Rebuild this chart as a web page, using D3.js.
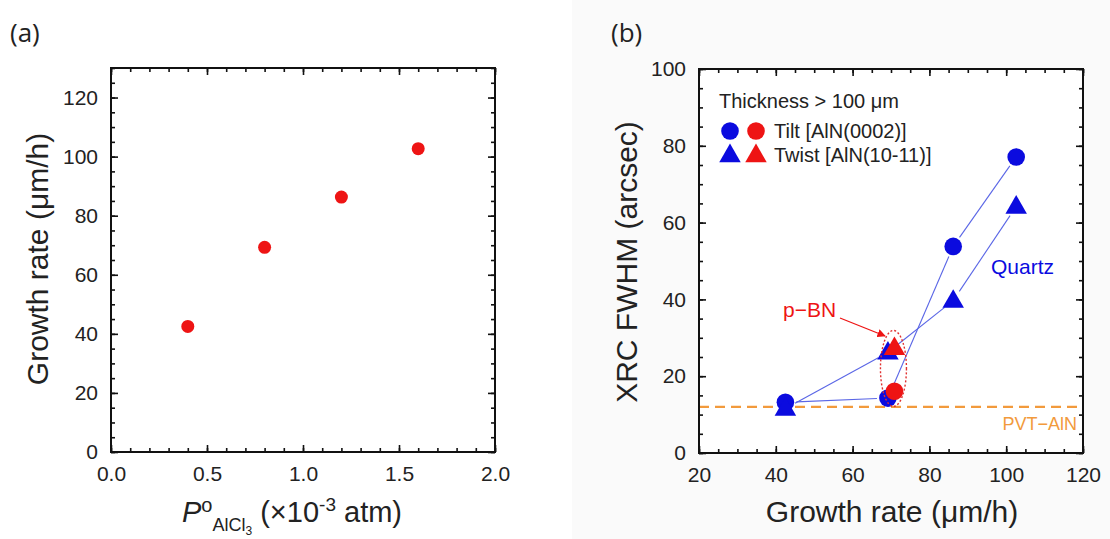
<!DOCTYPE html>
<html>
<head>
<meta charset="utf-8">
<script src="https://cdn.jsdelivr.net/npm/d3@7"></script>
<style>
  body { margin: 0; background: #fff; }
  svg { display: block; }
  text { font-family: "Liberation Sans", Arial, sans-serif; fill: #222; }
</style>
</head>
<body>
<div id="chart-area"></div>
<script>
const width = 1110;
const height = 539;

// panel (a): AlCl3 partial pressure vs growth rate
const pressure = [0.4, 0.8, 1.2, 1.6];
const growthRate = [42.5, 69.3, 86.3, 102.7];

// panel (b): XRC FWHM vs growth rate
const quartzRate = [42.5, 69.2, 86.2, 102.6];
const quartzTilt = [13.2, 14.3, 53.8, 77.1];
const quartzTwist = [11.6, 26.2, 39.7, 64.2];
const pbnRate = [70.9];
const pbnTilt = [16.1];
const pbnTwist = [27.4];
const pvtLevel = 12;

const xTicksA = [0, 0.5, 1.0, 1.5, 2.0];
const yTicksA = [0, 20, 40, 60, 80, 100, 120];
const xTicksB = [20, 40, 60, 80, 100, 120];
const yTicksB = [0, 20, 40, 60, 80, 100];

const blue = '#0b0bdf';
const red = '#ee1414';
const lineBlue = '#5a66e6';
const orange = '#f29a3c';

const svg = d3
  .select('#chart-area')
  .append('svg')
  .attr('width', width)
  .attr('height', height);

// faint grey backdrop of the right-hand figure
svg
  .append('rect')
  .attr('x', 572)
  .attr('y', 0)
  .attr('width', width - 572)
  .attr('height', height)
  .attr('fill', '#fafafa');

// draws the boxed frame with inward ticks on all four sides
function frame(g, x, y, xMajor, xMinor, yMajor, yMinor, xFmt) {
  const [x0, x1] = x.range();
  const [y0, y1] = y.range();
  const major = 7;
  const minor = 4;

  const axes = [
    { axis: d3.axisBottom, scale: x, at: `translate(0,${y0})`, lab: true },
    { axis: d3.axisTop, scale: x, at: `translate(0,${y1})`, lab: false },
    { axis: d3.axisLeft, scale: y, at: `translate(${x0},0)`, lab: true },
    { axis: d3.axisRight, scale: y, at: `translate(${x1},0)`, lab: false },
  ];

  axes.forEach((a) => {
    const horiz = a.scale === x;
    const minorAx = a
      .axis(a.scale)
      .tickValues(horiz ? xMinor : yMinor)
      .tickSize(-minor)
      .tickFormat('');
    g.append('g').attr('transform', a.at).call(minorAx);

    const majorAx = a
      .axis(a.scale)
      .tickValues(horiz ? xMajor : yMajor)
      .tickSize(-major)
      .tickPadding(horiz ? 14 : 13)
      .tickFormat(a.lab ? (horiz ? xFmt : d3.format('d')) : '');
    g.append('g').attr('transform', a.at).call(majorAx);
  });

  g.selectAll('.domain').remove();
  g.selectAll('.tick line').attr('stroke', '#111').attr('stroke-width', 1.6);
  g.selectAll('.tick text')
    .attr('font-size', 21)
    .attr('fill', '#222')
    .style('font-family', '"Liberation Sans", Arial, sans-serif');

  g.append('rect')
    .attr('x', x0)
    .attr('y', y1)
    .attr('width', x1 - x0)
    .attr('height', y0 - y1)
    .attr('fill', 'none')
    .attr('stroke', '#111')
    .attr('stroke-width', 2);
}

// ---------- panel (a) ----------
const xA = d3.scaleLinear().domain([0, 2]).range([111, 495]);
const yA = d3.scaleLinear().domain([0, 130]).range([452, 68]);
const gA = svg.append('g');

frame(
  gA,
  xA,
  yA,
  xTicksA,
  d3.range(0, 2.001, 0.1).map((d) => +d.toFixed(1)),
  yTicksA,
  d3.range(0, 130.1, 5),
  d3.format('.1f')
);

gA.selectAll('circle.pt')
  .data(pressure.map((p, i) => [p, growthRate[i]]))
  .join('circle')
  .attr('class', 'pt')
  .attr('cx', (d) => xA(d[0]))
  .attr('cy', (d) => yA(d[1]))
  .attr('r', 6.5)
  .attr('fill', red);

svg
  .append('text')
  .attr('x', 10)
  .attr('y', 42)
  .attr('font-size', 26)
  .style('font-family', '"Open Sans", sans-serif')
  .text('(a)');

svg
  .append('text')
  .attr('transform', 'translate(48,259) rotate(-90)')
  .attr('text-anchor', 'middle')
  .attr('font-size', 30)
  .text('Growth rate (μm/h)');

const xlabA = svg
  .append('text')
  .attr('x', 292)
  .attr('y', 522)
  .attr('text-anchor', 'middle')
  .attr('font-size', 29);
xlabA.append('tspan').attr('font-style', 'italic').text('P');
xlabA.append('tspan').attr('font-size', 20).attr('dy', -10).text('o');
xlabA.append('tspan').attr('font-size', 18).attr('dy', 19).text('AlCl');
xlabA.append('tspan').attr('font-size', 12).attr('dy', 4).text('3');
xlabA.append('tspan').attr('dy', -13).text(' (×10');
xlabA.append('tspan').attr('font-size', 19).attr('dy', -11).text('-3');
xlabA.append('tspan').attr('dy', 11).text(' atm)');

// ---------- panel (b) ----------
const xB = d3.scaleLinear().domain([20, 120]).range([699, 1083]);
const yB = d3.scaleLinear().domain([0, 100]).range([453, 69]);
const gB = svg.append('g');

gB.append('rect')
  .attr('x', 699)
  .attr('y', 69)
  .attr('width', 384)
  .attr('height', 384)
  .attr('fill', '#fff');

// PVT-AlN reference level
gB.append('line')
  .attr('x1', xB(20))
  .attr('x2', xB(120))
  .attr('y1', yB(pvtLevel))
  .attr('y2', yB(pvtLevel))
  .attr('stroke', orange)
  .attr('stroke-width', 2.2)
  .attr('stroke-dasharray', '10,6');

frame(
  gB,
  xB,
  yB,
  xTicksB,
  d3.range(20, 120.1, 5),
  yTicksB,
  d3.range(0, 100.1, 5),
  d3.format('d')
);

// connecting segments, with a small gap left around each marker
function gappedLine(xs, ys, gap) {
  const pts = xs.map((v, i) => [xB(v), yB(ys[i])]);
  const segs = d3.pairs(pts).map(([a, b]) => {
    const dx = b[0] - a[0];
    const dy = b[1] - a[1];
    const len = Math.hypot(dx, dy);
    const ux = dx / len;
    const uy = dy / len;
    return [a[0] + ux * gap, a[1] + uy * gap, b[0] - ux * gap, b[1] - uy * gap];
  });
  gB.append('g')
    .selectAll('line')
    .data(segs)
    .join('line')
    .attr('x1', (d) => d[0])
    .attr('y1', (d) => d[1])
    .attr('x2', (d) => d[2])
    .attr('y2', (d) => d[3])
    .attr('stroke', lineBlue)
    .attr('stroke-width', 1.1);
}
gappedLine(quartzRate, quartzTilt, 11);
gappedLine(quartzRate, quartzTwist, 11);

const tri = d3.symbol().type(d3.symbolTriangle).size(200);

function circles(xs, ys, color) {
  gB.append('g')
    .selectAll('circle')
    .data(xs.map((v, i) => [v, ys[i]]))
    .join('circle')
    .attr('cx', (d) => xB(d[0]))
    .attr('cy', (d) => yB(d[1]))
    .attr('r', 8.8)
    .attr('fill', color);
}
function triangles(xs, ys, color) {
  gB.append('g')
    .selectAll('path')
    .data(xs.map((v, i) => [v, ys[i]]))
    .join('path')
    .attr('d', tri)
    .attr('transform', (d) => `translate(${xB(d[0])},${yB(d[1]) + 1})`)
    .attr('fill', color);
}
circles(quartzRate, quartzTilt, blue);
triangles(quartzRate, quartzTwist, blue);
circles(pbnRate, pbnTilt, red);
triangles(pbnRate, pbnTwist, red);

// dotted ellipse round the p-BN points
gB.append('ellipse')
  .attr('cx', xB(pbnRate[0]) - 1)
  .attr('cy', yB((pbnTilt[0] + pbnTwist[0]) / 2) - 1)
  .attr('rx', 13)
  .attr('ry', 38)
  .attr('fill', 'none')
  .attr('stroke', '#e03030')
  .attr('stroke-width', 1.4)
  .attr('stroke-dasharray', '2,2');

// annotations
svg
  .append('defs')
  .append('marker')
  .attr('id', 'head')
  .attr('viewBox', '0 0 10 10')
  .attr('refX', 9)
  .attr('refY', 5)
  .attr('markerWidth', 7)
  .attr('markerHeight', 7)
  .attr('orient', 'auto')
  .append('path')
  .attr('d', 'M0,0 L10,5 L0,10 z')
  .attr('fill', red);

gB.append('line')
  .attr('x1', 840)
  .attr('y1', 318)
  .attr('x2', 885)
  .attr('y2', 336)
  .attr('stroke', red)
  .attr('stroke-width', 1.2)
  .attr('marker-end', 'url(#head)');

gB.append('text')
  .attr('x', 783)
  .attr('y', 317)
  .attr('font-size', 21)
  .style('fill', red)
  .text('p−BN');

gB.append('text')
  .attr('x', 991)
  .attr('y', 274)
  .attr('font-size', 21)
  .style('fill', blue)
  .text('Quartz');

gB.append('text')
  .attr('x', 1077)
  .attr('y', 430)
  .attr('text-anchor', 'end')
  .attr('font-size', 18)
  .style('fill', orange)
  .text('PVT−AlN');

// legend
gB.append('text')
  .attr('x', 719)
  .attr('y', 108)
  .attr('font-size', 20)
  .text('Thickness > 100 μm');

const legend = [
  { y: 131, shape: 'circle', label: 'Tilt [AlN(0002)]' },
  { y: 155, shape: 'tri', label: 'Twist [AlN(10-11)]' },
];
legend.forEach((row) => {
  [
    [730, blue],
    [756, red],
  ].forEach(([lx, c]) => {
    if (row.shape === 'circle') {
      gB.append('circle').attr('cx', lx).attr('cy', row.y).attr('r', 8.8).attr('fill', c);
    } else {
      gB.append('path')
        .attr('d', tri)
        .attr('transform', `translate(${lx},${row.y + 1})`)
        .attr('fill', c);
    }
  });
  gB.append('text')
    .attr('x', 774)
    .attr('y', row.y + 7)
    .attr('font-size', 20)
    .text(row.label);
});

svg
  .append('text')
  .attr('x', 611)
  .attr('y', 42)
  .attr('font-size', 26)
  .style('font-family', '"Open Sans", sans-serif')
  .text('(b)');

svg
  .append('text')
  .attr('transform', 'translate(637,262) rotate(-90)')
  .attr('text-anchor', 'middle')
  .attr('font-size', 30)
  .text('XRC FWHM (arcsec)');

svg
  .append('text')
  .attr('x', 892)
  .attr('y', 522)
  .attr('text-anchor', 'middle')
  .attr('font-size', 30)
  .text('Growth rate (μm/h)');
</script>
</body>
</html>
